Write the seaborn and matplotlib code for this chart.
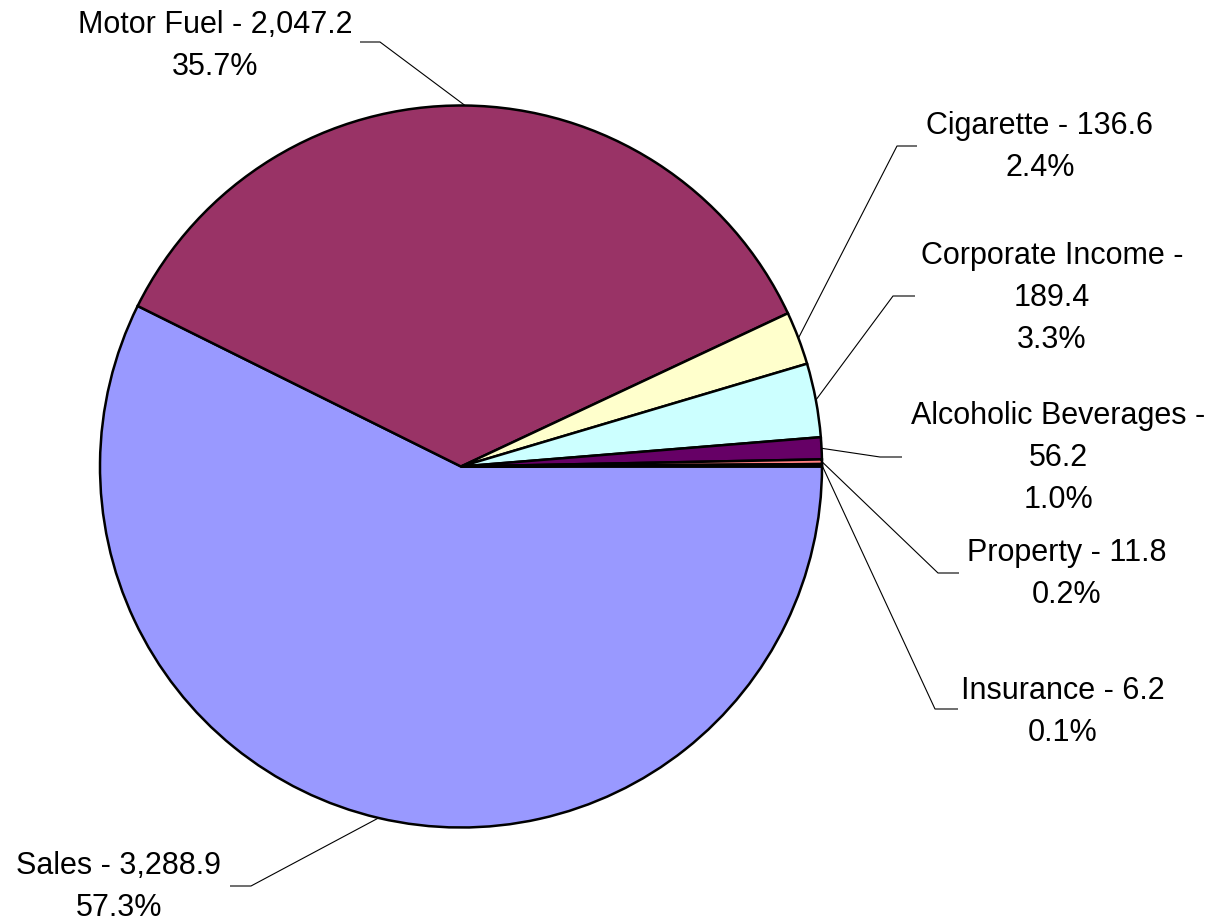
import numpy as np
import matplotlib
matplotlib.use("Agg")
import matplotlib.pyplot as plt
import seaborn as sns

categories = ["Sales", "Motor Fuel", "Cigarette", "Corporate Income",
              "Alcoholic Beverages", "Property", "Insurance"]
values = [3288.9, 2047.2, 136.6, 189.4, 56.2, 11.8, 6.2]
label_texts = ["Sales - 3,288.9\n57.3%",
               "Motor Fuel - 2,047.2\n35.7%",
               "Cigarette - 136.6\n2.4%",
               "Corporate Income -\n189.4\n3.3%",
               "Alcoholic Beverages -\n56.2\n1.0%",
               "Property - 11.8\n0.2%",
               "Insurance - 6.2\n0.1%"]
colors = ["#9999FF", "#993366", "#FFFFCC", "#CCFFFF", "#660066", "#FF8080", "#0066CC"]

sns.set_style("white")
plt.rcParams['font.family'] = ['Liberation Sans', 'DejaVu Sans']

W, H = 1218, 924
fig = plt.figure(figsize=(W / 100, H / 100), dpi=100)
ax = fig.add_axes([0, 0, 1, 1])

cx, cy, r = 461, H - 466.5, 361
wedges, _ = ax.pie(values, colors=colors, startangle=0, counterclock=False,
                   center=(cx, cy), radius=r, frame=True,
                   wedgeprops=dict(edgecolor='black', linewidth=1.8))
ax.set_xlim(0, W)
ax.set_ylim(0, H)
ax.set_aspect('equal')
ax.axis('off')

# label layout (pixel coords, y measured from top): text center, elbow x, horizontal end x, y of leader
layout = [
    (119, 887, 251, 230, 886),
    (215, 46, 380, 360, 42),
    (1040, 147, 897, 917, 146),
    (1052, 298, 893, 915, 296),
    (1058, 458, 880, 902, 457),
    (1067, 574, 938, 959, 573),
    (1063, 712, 935, 958, 709),
]

for w, txt, (tx, ty, ex, hx, ly) in zip(wedges, label_texts, layout):
    mid = np.deg2rad((w.theta1 + w.theta2) / 2)
    px, py = cx + r * np.cos(mid), cy + r * np.sin(mid)
    ax.plot([px, ex, hx], [py, H - ly, H - ly], color='black', lw=0.8,
            solid_capstyle='butt', zorder=5)
    ax.text(tx, H - ty, txt, ha='center', va='center', fontsize=22,
            linespacing=1.52, color='black')

fig.savefig("out.png", dpi=100)
